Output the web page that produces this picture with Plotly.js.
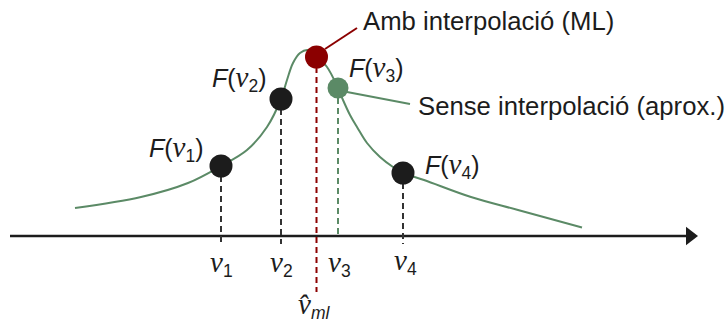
<!DOCTYPE html>
<html>
<head>
<meta charset="utf-8">
<script src="https://cdn.plot.ly/plotly-3.0.1.min.js"></script>
<style>html,body{margin:0;padding:0;background:#fff}#chart{width:727px;height:325px}</style>
</head>
<body>
<div id="chart"></div>
<script>
// Curve F(v): positions along v (horizontal) and heights above the axis
const curveV = [75, 141, 188, 221, 247, 267, 281, 287, 293, 300, 308, 317, 327, 338, 343, 350, 357, 367, 380, 393, 403, 424, 471, 518, 582];
const curveF = [28, 39, 53, 70, 86, 109, 137, 156, 173, 183, 186, 179, 169, 148, 136, 121, 109, 93, 79, 69, 63, 56, 39, 26, 8.5];

// Sampled points v1, v2, v4 with their F values
const sampleNames = ["1", "2", "4"];
const sampleV = [221, 281, 403];
const sampleF = [70, 137, 63];

// v3 (without interpolation, approx.) and v_ml (with interpolation, ML)
const approxV = [338], approxF = [148];
const mlV = [316.5], mlF = [179];

// axis extent
const axisV = [10, 690];

// tick labels
const tickLabels = ["v1", "v2", "v3", "v4", "v̂ml"];
const tickV = [221.5, 281.5, 339, 405, 314];
const tickH = [-27, -27, -27, -25, -69];

const lblF = ["F(v1)", "F(v2)", "F(v3)", "F(v4)"];
const lblV = [176.5, 239, 376, 452];
const lblH = [88, 158, 168, 71];

const GREEN = "#5b8a66", RED = "#8b0000", BLACK = "#1c1c1c";
const traces = [];

// axis
traces.push({x: axisV, y: [0, 0], mode: "lines", line: {color: BLACK, width: 2.5}, hoverinfo: "skip"});
traces.push({x: [axisV[1]], y: [0], mode: "markers", marker: {symbol: "triangle-right", size: 16, color: BLACK}, hoverinfo: "skip"});

// curve
traces.push({x: curveV, y: curveF, mode: "lines", line: {color: GREEN, width: 2, shape: "spline", smoothing: 1}, hoverinfo: "skip"});

// dashed drop lines
sampleV.forEach((v, i) => {
  traces.push({x: [v, v], y: [sampleF[i], -8], mode: "lines", line: {color: "#333", width: 2, dash: "6px,4px"}, hoverinfo: "skip"});
});
traces.push({x: [approxV[0], approxV[0]], y: [approxF[0], 0], mode: "lines", line: {color: GREEN, width: 2, dash: "6px,4px"}, hoverinfo: "skip"});
traces.push({x: [mlV[0], mlV[0]], y: [mlF[0], -56], mode: "lines", line: {color: RED, width: 2, dash: "6px,4px"}, hoverinfo: "skip"});

// leader lines
traces.push({x: [325, 357], y: [187, 208], mode: "lines", line: {color: RED, width: 2}, hoverinfo: "skip"});
traces.push({x: [347, 410], y: [144, 132], mode: "lines", line: {color: GREEN, width: 2}, hoverinfo: "skip"});

// points
traces.push({x: sampleV, y: sampleF, mode: "markers", marker: {size: 23, color: BLACK}, hoverinfo: "skip"});
traces.push({x: approxV, y: approxF, mode: "markers", marker: {size: 21, color: GREEN}, hoverinfo: "skip"});
traces.push({x: mlV, y: mlF, mode: "markers", marker: {size: 23, color: RED}, hoverinfo: "skip"});

const SANS = "Liberation Sans, Arial, sans-serif";
const SERIFV = (s) => '<span style="font-family:Liberation Serif,serif;font-size:29px"><i>' + s + '</i></span>';
const ann = [];

function mathLabel(lbl) {
  if (lbl.startsWith("v̂")) {
    return SERIFV("v̂") + "<sub><i>" + lbl.slice(2) + "</i></sub>";
  }
  return SERIFV("v") + "<sub>" + lbl.slice(1) + "</sub>";
}

tickLabels.forEach((t, i) => {
  ann.push({x: tickV[i], y: tickH[i], text: mathLabel(t), showarrow: false, font: {family: SANS, size: 25, color: BLACK}, xanchor: "center", yanchor: "middle"});
});
lblF.forEach((t, i) => {
  const sub = t.charAt(3);
  ann.push({x: lblV[i], y: lblH[i], text: "<i>F</i>(" + SERIFV("v") + "<sub>" + sub + "</sub>)", showarrow: false, font: {family: SANS, size: 25, color: BLACK}, xanchor: "center", yanchor: "middle"});
});
ann.push({x: 488, y: 215, text: "Amb interpolació (ML)", showarrow: false, font: {family: SANS, size: 25.7, color: BLACK}, xanchor: "center", yanchor: "middle"});
ann.push({x: 571, y: 130, text: "Sense interpolació (aprox.)", showarrow: false, font: {family: SANS, size: 25.7, color: BLACK}, xanchor: "center", yanchor: "middle"});

const layout = {
  width: 727, height: 325,
  margin: {l: 0, r: 0, t: 0, b: 0},
  paper_bgcolor: "#fff", plot_bgcolor: "#fff",
  showlegend: false,
  xaxis: {range: [0, 727], visible: false, fixedrange: true},
  yaxis: {range: [-89, 236], visible: false, fixedrange: true},
  annotations: ann
};
Plotly.newPlot("chart", traces, layout, {staticPlot: true, displayModeBar: false});
</script>
</body>
</html>
